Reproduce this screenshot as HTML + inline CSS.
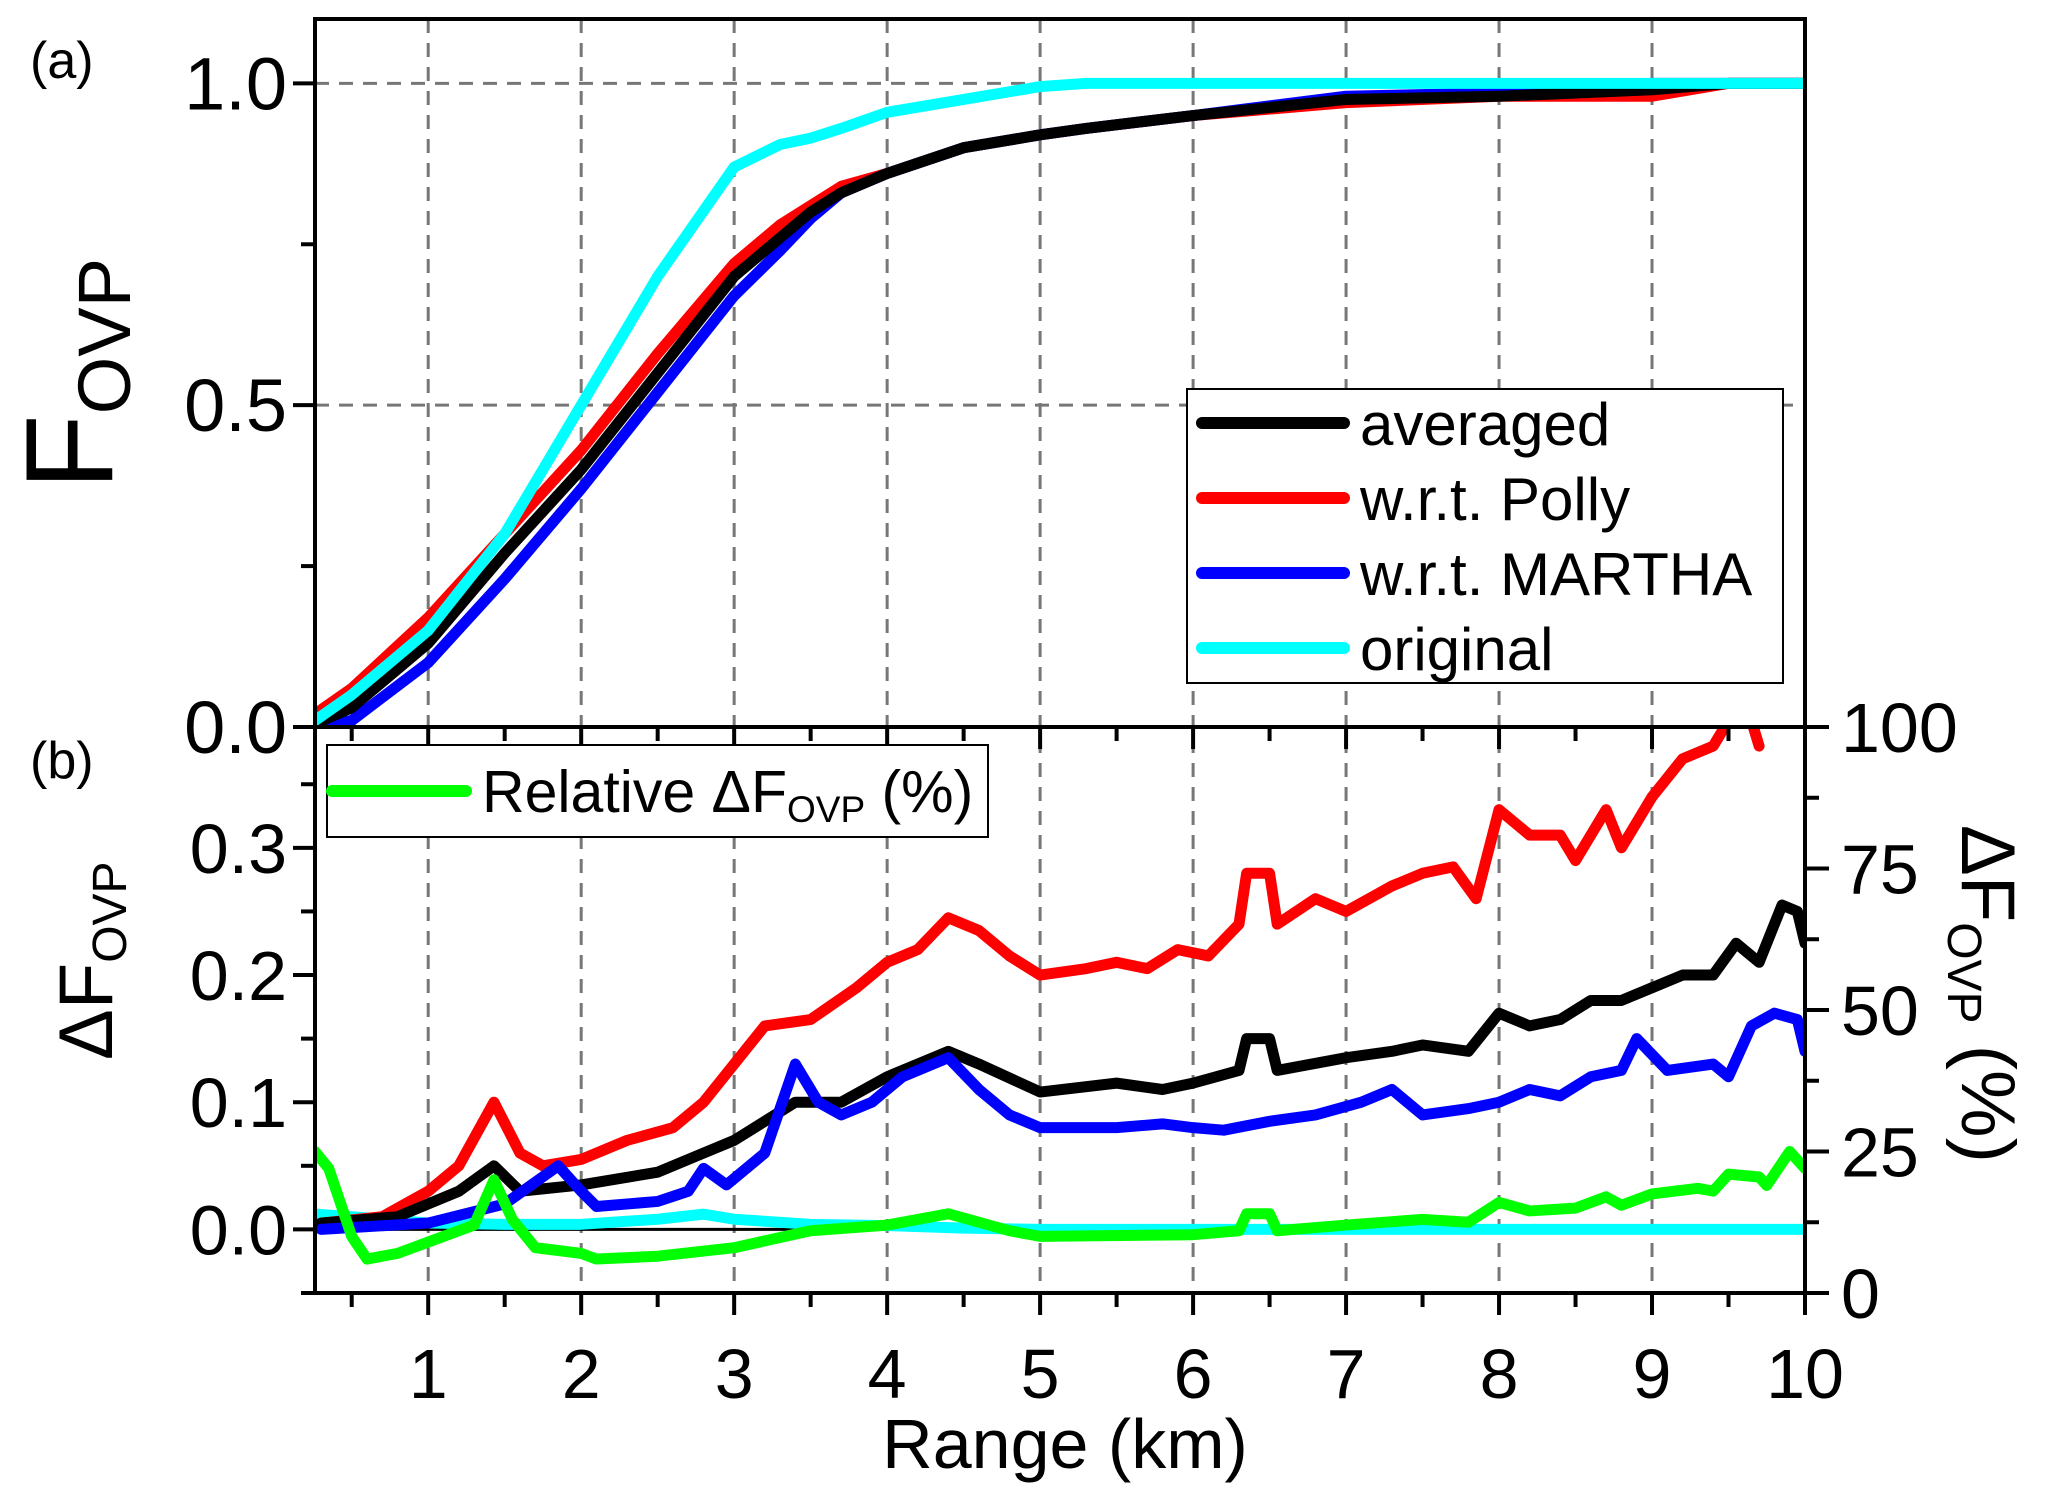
<!DOCTYPE html>
<html><head><meta charset="utf-8"><style>
html,body{margin:0;padding:0;background:#fff;}
svg{display:block;font-family:"Liberation Sans",sans-serif;}
</style></head><body>
<svg id="chart" width="2067" height="1492" viewBox="0 0 2067 1492" xmlns="http://www.w3.org/2000/svg">
<defs>
<clipPath id="clipTop"><rect x="315" y="19" width="1490" height="708"/></clipPath>
<clipPath id="clipBot"><rect x="315" y="727" width="1490" height="566"/></clipPath>
</defs>
<g id="grid"></g>
<g id="series"></g>
<g id="axes"></g>
<text x="30" y="78" font-size="52">(a)</text>
<text x="30" y="778" font-size="52">(b)</text>
<text transform="translate(112,490) rotate(-90)" font-size="124">F<tspan font-size="74" dy="18">OVP</tspan></text>
<text transform="translate(112,1060) rotate(-90)" font-size="76">ΔF<tspan font-size="48" dy="14">OVP</tspan></text>
<text transform="translate(1962,825) rotate(90)" font-size="76">ΔF<tspan font-size="48" dy="14">OVP</tspan><tspan dy="-14"> (%)</tspan></text>
<text x="1065" y="1468" font-size="70" text-anchor="middle">Range (km)</text>
<g>
<rect x="1187" y="389" width="596" height="294" fill="#fff" stroke="#000" stroke-width="2"/>
<line x1="1202" y1="423" x2="1344" y2="423" stroke="#000" stroke-width="12" stroke-linecap="round"/>
<text x="1360" y="445" font-size="60">averaged</text>
<line x1="1202" y1="498" x2="1344" y2="498" stroke="#f00" stroke-width="12" stroke-linecap="round"/>
<text x="1360" y="520" font-size="60">w.r.t. Polly</text>
<line x1="1202" y1="573" x2="1344" y2="573" stroke="#00f" stroke-width="12" stroke-linecap="round"/>
<text x="1360" y="595" font-size="60">w.r.t. MARTHA</text>
<line x1="1202" y1="648" x2="1344" y2="648" stroke="#0ff" stroke-width="12" stroke-linecap="round"/>
<text x="1360" y="670" font-size="60">original</text>
</g>
<g>
<rect x="327" y="745" width="661" height="92" fill="#fff" stroke="#000" stroke-width="2"/>
<line x1="332" y1="791" x2="466" y2="791" stroke="#0f0" stroke-width="12" stroke-linecap="round"/>
<text x="482" y="812" font-size="59">Relative ΔF<tspan font-size="37" dy="10">OVP</tspan><tspan dy="-10"> (%)</tspan></text>
</g>
<script>
const topXs=[0.26,0.5,1,1.5,2,2.5,3,3.3,3.5,3.7,4,4.5,5,5.3,6,7,8,9,9.5,10];
const topCyan=[0.01,0.05,0.15,0.3,0.5,0.7,0.87,0.905,0.915,0.93,0.955,0.975,0.995,1,1,1,1,1,1,1];
const topBlack=[0.005,0.03,0.13,0.27,0.4,0.55,0.7,0.76,0.8,0.83,0.86,0.9,0.92,0.93,0.95,0.975,0.98,0.99,1,1];
const topRed=[0.02,0.06,0.17,0.3,0.43,0.58,0.72,0.78,0.81,0.84,0.86,0.9,0.92,0.93,0.95,0.97,0.98,0.98,1,1];
const topBlue=[0,0.01,0.1,0.23,0.37,0.52,0.67,0.74,0.79,0.83,0.86,0.9,0.92,0.93,0.95,0.98,0.985,1,1,1];

const redXs=[0.3,0.7,1.0,1.2,1.43,1.6,1.75,2,2.3,2.6,2.8,3,3.2,3.5,3.8,4,4.2,4.4,4.6,4.8,5,5.3,5.5,5.7,5.9,6.1,6.3,6.35,6.5,6.55,6.8,7,7.3,7.5,7.7,7.85,8,8.2,8.4,8.5,8.7,8.8,9,9.2,9.4,9.5,9.6,9.7];
const redVals=[0.005,0.01,0.03,0.05,0.1,0.06,0.05,0.055,0.07,0.08,0.1,0.13,0.16,0.165,0.19,0.21,0.22,0.245,0.235,0.215,0.2,0.205,0.21,0.205,0.22,0.215,0.24,0.28,0.28,0.24,0.26,0.25,0.27,0.28,0.285,0.26,0.33,0.31,0.31,0.29,0.33,0.3,0.34,0.37,0.38,0.4,0.42,0.38];
const blackXs=[0.3,0.8,1.0,1.2,1.43,1.6,2,2.5,2.8,3,3.2,3.4,3.7,4,4.3,4.4,4.6,5,5.5,5.8,6,6.3,6.35,6.5,6.55,7,7.3,7.5,7.8,8,8.2,8.4,8.6,8.8,9,9.2,9.4,9.55,9.7,9.85,9.95,10];
const blackVals=[0.005,0.01,0.02,0.03,0.05,0.03,0.035,0.045,0.06,0.07,0.085,0.1,0.1,0.12,0.135,0.14,0.13,0.108,0.115,0.11,0.115,0.125,0.15,0.15,0.125,0.135,0.14,0.145,0.14,0.17,0.16,0.165,0.18,0.18,0.19,0.2,0.2,0.225,0.21,0.255,0.25,0.225];
const blueXs=[0.3,1.0,1.5,1.85,2,2.1,2.5,2.7,2.8,2.95,3.2,3.4,3.55,3.7,3.9,4.1,4.4,4.6,4.8,5.0,5.5,5.8,6,6.2,6.5,6.8,7.1,7.3,7.5,7.8,8,8.2,8.4,8.6,8.8,8.9,9.1,9.4,9.5,9.65,9.8,9.95,10];
const blueVals=[0,0.005,0.02,0.05,0.03,0.018,0.022,0.03,0.048,0.035,0.06,0.13,0.1,0.09,0.1,0.12,0.135,0.11,0.09,0.08,0.08,0.083,0.08,0.078,0.085,0.09,0.1,0.11,0.09,0.095,0.1,0.11,0.105,0.12,0.125,0.15,0.125,0.13,0.12,0.16,0.17,0.165,0.14];
const cyanXs=[0.26,0.5,1,1.5,2,2.5,2.8,3.0,3.5,4,4.5,5,10];
const cyanVals=[0.012,0.01,0.005,0.004,0.004,0.008,0.012,0.008,0.004,0.003,0.001,0,0];
const greenXs=[0.26,0.35,0.5,0.6,0.8,1.0,1.3,1.43,1.55,1.7,2,2.1,2.5,3,3.5,4,4.4,4.8,5,6,6.3,6.35,6.5,6.55,7,7.5,7.8,8,8.2,8.5,8.7,8.8,9,9.3,9.4,9.5,9.7,9.75,9.9,10];
const greenPct=[25,22,10,6,7,9,12,20,13,8,7,6,6.5,8,11,12,14,11,10,10.3,11,14,14,11,12,13,12.5,16,14.5,15,17,15.5,17.5,18.5,18,21,20.5,19,25,22];

const xTicks=[1,2,3,4,5,6,7,8,9,10];
const topYTicks=["0.0","0.5","1.0"];
const botYTicks=["0.0","0.1","0.2","0.3"];
const rightTicks=["0","25","50","75","100"];

const NS="http://www.w3.org/2000/svg";
const L=315,R=1805,XMIN=0.26,XMAX=10;
const X=v=>L+(v-XMIN)/(XMAX-XMIN)*(R-L);
const TOP=19,MID=727,BOT=1293;
const Yt=v=>MID-v/1.1*(MID-TOP);
const YB0=-0.05,YB1=0.395;
const Yb=v=>BOT-(v-YB0)/(YB1-YB0)*(BOT-MID);
const Yr=v=>BOT-v/100*(BOT-MID);
function mk(tag,attrs,parent){const e=document.createElementNS(NS,tag);for(const k in attrs)e.setAttribute(k,attrs[k]);parent.appendChild(e);return e;}
const grid=document.getElementById('grid'),ser=document.getElementById('series'),ax=document.getElementById('axes');
const dash={stroke:'#777','stroke-width':3,'stroke-dasharray':'14 10'};
xTicks.forEach(t=>{if(t<10){const g=mk('line',Object.assign({x1:X(t),x2:X(t),y1:TOP,y2:BOT},dash),grid);

}});
[0.5,1.0].forEach(t=>{const g=mk('line',Object.assign({x1:L,x2:R,y1:Yt(t),y2:Yt(t)},dash),grid);

});
const z=mk('line',{x1:L,x2:R,y1:Yb(0),y2:Yb(0),stroke:'#000','stroke-width':3},grid);


function poly(xs,ys,fx,fy,color,clip,name){
  const p=mk('polyline',{points:xs.map((x,i)=>fx(x)+','+fy(ys[i])).join(' '),fill:'none',stroke:color,'stroke-width':11,'stroke-linejoin':'round','stroke-linecap':'round','clip-path':'url(#'+clip+')'},ser);
  
  
}
poly(topXs,topRed,X,Yt,'#f00','clipTop','top-polly-line');
poly(topXs,topBlue,X,Yt,'#00f','clipTop','top-martha-line');
poly(topXs,topBlack,X,Yt,'#000','clipTop','top-averaged-line');
poly(topXs,topCyan,X,Yt,'#0ff','clipTop','top-original-line');
poly(cyanXs,cyanVals,X,Yb,'#0ff','clipBot','delta-original-line');
poly(redXs,redVals,X,Yb,'#f00','clipBot','delta-polly-line');
poly(blackXs,blackVals,X,Yb,'#000','clipBot','delta-averaged-line');
poly(blueXs,blueVals,X,Yb,'#00f','clipBot','delta-martha-line');
poly(greenXs,greenPct,X,Yr,'#0f0','clipBot','relative-delta-line');
const st={stroke:'#000','stroke-width':4,fill:'none'};
mk('rect',Object.assign({x:L,y:TOP,width:R-L,height:BOT-TOP},st),ax);
mk('line',Object.assign({x1:L,x2:R,y1:MID,y2:MID},st),ax);
for(let h=0.5;h<=10;h+=0.5){const maj=Number.isInteger(h);const len=maj?22:14;
  mk('line',{x1:X(h),x2:X(h),y1:BOT,y2:BOT+len,stroke:'#000','stroke-width':4},ax);
  mk('line',{x1:X(h),x2:X(h),y1:MID,y2:MID+len,stroke:'#000','stroke-width':4},ax);}
xTicks.forEach(t=>{const e=mk('text',{x:X(t),y:1398,'font-size':70,'text-anchor':'middle'},ax);e.textContent=t;

});
for(let v=0;v<=1.001;v+=0.25){const maj=Math.abs(v*2-Math.round(v*2))<1e-6;
  mk('line',{x1:L-(maj?22:14),x2:L,y1:Yt(v),y2:Yt(v),stroke:'#000','stroke-width':4},ax);}
topYTicks.forEach(t=>{const e=mk('text',{x:L-28,y:Yt(+t)+26,'font-size':74,'text-anchor':'end'},ax);e.textContent=t;

});
for(let v=-0.05;v<=0.36;v+=0.05){const maj=Math.abs(v*10-Math.round(v*10))<1e-6;
  mk('line',{x1:L-(maj?22:14),x2:L,y1:Yb(v),y2:Yb(v),stroke:'#000','stroke-width':4},ax);}
botYTicks.forEach(t=>{const e=mk('text',{x:L-28,y:Yb(+t)+25,'font-size':70,'text-anchor':'end'},ax);e.textContent=t;

});
for(let v=0;v<=100;v+=12.5){const maj=v%25===0;
  mk('line',{x1:R,x2:R+(maj?24:14),y1:Yr(v),y2:Yr(v),stroke:'#000','stroke-width':4},ax);}
rightTicks.forEach(t=>{const e=mk('text',{x:R+36,y:Yr(+t)+25,'font-size':70},ax);e.textContent=t;

});
</script>
</svg>
</body></html>
